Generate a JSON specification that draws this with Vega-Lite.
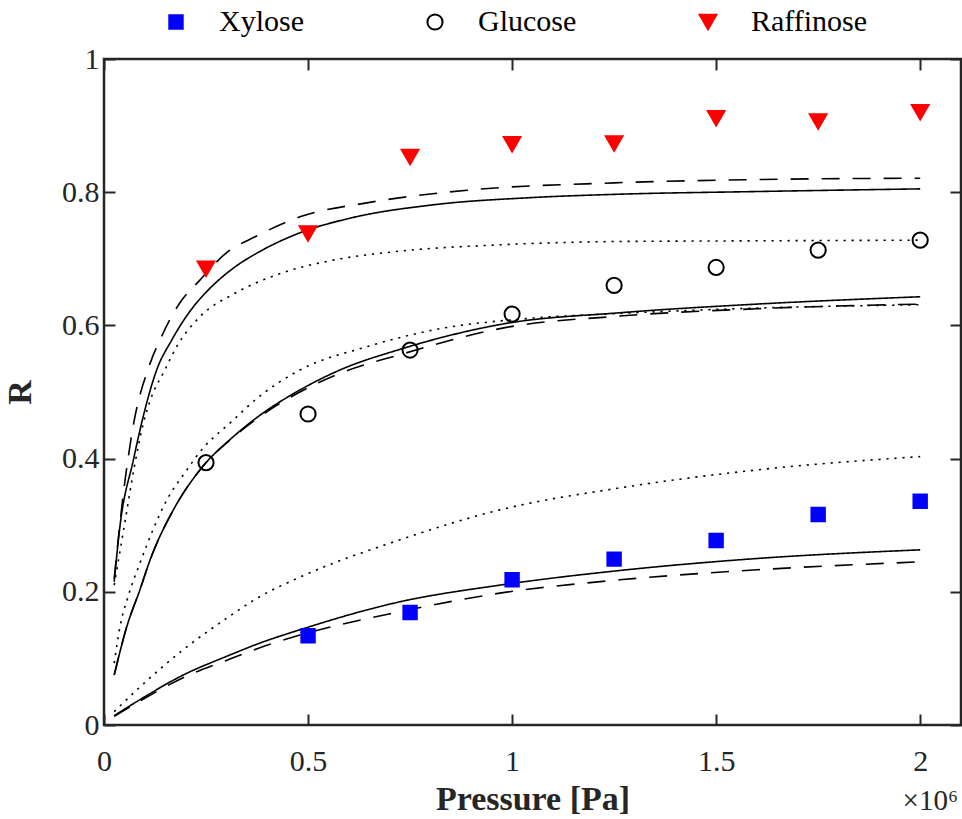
{
  "$schema": "https://vega.github.io/schema/vega-lite/v6.json",
  "width": 857,
  "height": 666,
  "autosize": {"type": "none"},
  "padding": {"left": 104, "top": 59, "right": 1, "bottom": 94},
  "background": "white",
  "config": {
    "view": {"stroke": "#262626", "strokeWidth": 2.5},
    "font": "Liberation Serif",
    "axis": {
      "labelFont": "Liberation Serif",
      "titleFont": "Liberation Serif",
      "labelColor": "#262626",
      "titleColor": "#262626",
      "tickColor": "#262626",
      "tickWidth": 2,
      "labelFontSize": 30,
      "titleFontSize": 34,
      "titleFontWeight": "bold",
      "grid": false,
      "domain": false
    }
  },
  "datasets": {
    "points": [
      {"sugar": "Xylose", "P": 0.5, "R": 0.134},
      {"sugar": "Xylose", "P": 0.75, "R": 0.169},
      {"sugar": "Xylose", "P": 1.0, "R": 0.218},
      {"sugar": "Xylose", "P": 1.25, "R": 0.249},
      {"sugar": "Xylose", "P": 1.5, "R": 0.277},
      {"sugar": "Xylose", "P": 1.75, "R": 0.316},
      {"sugar": "Xylose", "P": 2.0, "R": 0.336},
      {"sugar": "Glucose", "P": 0.25, "R": 0.394},
      {"sugar": "Glucose", "P": 0.5, "R": 0.467},
      {"sugar": "Glucose", "P": 0.75, "R": 0.563},
      {"sugar": "Glucose", "P": 1.0, "R": 0.617},
      {"sugar": "Glucose", "P": 1.25, "R": 0.660},
      {"sugar": "Glucose", "P": 1.5, "R": 0.687},
      {"sugar": "Glucose", "P": 1.75, "R": 0.713},
      {"sugar": "Glucose", "P": 2.0, "R": 0.728},
      {"sugar": "Raffinose", "P": 0.25, "R": 0.685},
      {"sugar": "Raffinose", "P": 0.5, "R": 0.738},
      {"sugar": "Raffinose", "P": 0.75, "R": 0.853},
      {"sugar": "Raffinose", "P": 1.0, "R": 0.872},
      {"sugar": "Raffinose", "P": 1.25, "R": 0.873},
      {"sugar": "Raffinose", "P": 1.5, "R": 0.911},
      {"sugar": "Raffinose", "P": 1.75, "R": 0.906},
      {"sugar": "Raffinose", "P": 2.0, "R": 0.920}
    ],
    "curves": [
      {"curve": "RaD", "style": "dashed", "P": 0.025, "R": 0.22},
      {"curve": "RaD", "style": "dashed", "P": 0.05, "R": 0.36},
      {"curve": "RaD", "style": "dashed", "P": 0.071, "R": 0.447},
      {"curve": "RaD", "style": "dashed", "P": 0.113, "R": 0.543},
      {"curve": "RaD", "style": "dashed", "P": 0.137, "R": 0.578},
      {"curve": "RaD", "style": "dashed", "P": 0.186, "R": 0.634},
      {"curve": "RaD", "style": "dashed", "P": 0.235, "R": 0.668},
      {"curve": "RaD", "style": "dashed", "P": 0.30, "R": 0.709},
      {"curve": "RaD", "style": "dashed", "P": 0.37, "R": 0.733},
      {"curve": "RaD", "style": "dashed", "P": 0.48, "R": 0.763},
      {"curve": "RaD", "style": "dashed", "P": 0.644, "R": 0.784},
      {"curve": "RaD", "style": "dashed", "P": 0.89, "R": 0.803},
      {"curve": "RaD", "style": "dashed", "P": 1.25, "R": 0.814},
      {"curve": "RaD", "style": "dashed", "P": 1.6, "R": 0.819},
      {"curve": "RaD", "style": "dashed", "P": 2.0, "R": 0.821},

      {"curve": "RaS", "style": "solid", "P": 0.025, "R": 0.215},
      {"curve": "RaS", "style": "solid", "P": 0.039, "R": 0.298},
      {"curve": "RaS", "style": "solid", "P": 0.072, "R": 0.398},
      {"curve": "RaS", "style": "solid", "P": 0.096, "R": 0.463},
      {"curve": "RaS", "style": "solid", "P": 0.129, "R": 0.533},
      {"curve": "RaS", "style": "solid", "P": 0.166, "R": 0.578},
      {"curve": "RaS", "style": "solid", "P": 0.219, "R": 0.628},
      {"curve": "RaS", "style": "solid", "P": 0.252, "R": 0.651},
      {"curve": "RaS", "style": "solid", "P": 0.317, "R": 0.686},
      {"curve": "RaS", "style": "solid", "P": 0.382, "R": 0.711},
      {"curve": "RaS", "style": "solid", "P": 0.48, "R": 0.739},
      {"curve": "RaS", "style": "solid", "P": 0.603, "R": 0.761},
      {"curve": "RaS", "style": "solid", "P": 0.806, "R": 0.781},
      {"curve": "RaS", "style": "solid", "P": 1.051, "R": 0.792},
      {"curve": "RaS", "style": "solid", "P": 1.264, "R": 0.797},
      {"curve": "RaS", "style": "solid", "P": 1.6, "R": 0.801},
      {"curve": "RaS", "style": "solid", "P": 2.0, "R": 0.805},

      {"curve": "RaT", "style": "dotted", "P": 0.025, "R": 0.21},
      {"curve": "RaT", "style": "dotted", "P": 0.05, "R": 0.30},
      {"curve": "RaT", "style": "dotted", "P": 0.075, "R": 0.39},
      {"curve": "RaT", "style": "dotted", "P": 0.096, "R": 0.452},
      {"curve": "RaT", "style": "dotted", "P": 0.113, "R": 0.487},
      {"curve": "RaT", "style": "dotted", "P": 0.149, "R": 0.533},
      {"curve": "RaT", "style": "dotted", "P": 0.178, "R": 0.568},
      {"curve": "RaT", "style": "dotted", "P": 0.235, "R": 0.613},
      {"curve": "RaT", "style": "dotted", "P": 0.317, "R": 0.647},
      {"curve": "RaT", "style": "dotted", "P": 0.423, "R": 0.676},
      {"curve": "RaT", "style": "dotted", "P": 0.562, "R": 0.698},
      {"curve": "RaT", "style": "dotted", "P": 0.717, "R": 0.711},
      {"curve": "RaT", "style": "dotted", "P": 0.97, "R": 0.721},
      {"curve": "RaT", "style": "dotted", "P": 1.264, "R": 0.726},
      {"curve": "RaT", "style": "dotted", "P": 1.6, "R": 0.727},
      {"curve": "RaT", "style": "dotted", "P": 2.0, "R": 0.728},

      {"curve": "GlS", "style": "solid", "P": 0.025, "R": 0.075},
      {"curve": "GlS", "style": "solid", "P": 0.056, "R": 0.148},
      {"curve": "GlS", "style": "solid", "P": 0.088, "R": 0.203},
      {"curve": "GlS", "style": "solid", "P": 0.113, "R": 0.248},
      {"curve": "GlS", "style": "solid", "P": 0.170, "R": 0.323},
      {"curve": "GlS", "style": "solid", "P": 0.235, "R": 0.383},
      {"curve": "GlS", "style": "solid", "P": 0.317, "R": 0.433},
      {"curve": "GlS", "style": "solid", "P": 0.382, "R": 0.465},
      {"curve": "GlS", "style": "solid", "P": 0.48, "R": 0.503},
      {"curve": "GlS", "style": "solid", "P": 0.578, "R": 0.533},
      {"curve": "GlS", "style": "solid", "P": 0.725, "R": 0.564},
      {"curve": "GlS", "style": "solid", "P": 0.986, "R": 0.603},
      {"curve": "GlS", "style": "solid", "P": 1.264, "R": 0.619},
      {"curve": "GlS", "style": "solid", "P": 1.6, "R": 0.632},
      {"curve": "GlS", "style": "solid", "P": 2.0, "R": 0.643},

      {"curve": "GlD", "style": "dashed", "P": 0.025, "R": 0.075},
      {"curve": "GlD", "style": "dashed", "P": 0.056, "R": 0.148},
      {"curve": "GlD", "style": "dashed", "P": 0.088, "R": 0.203},
      {"curve": "GlD", "style": "dashed", "P": 0.113, "R": 0.248},
      {"curve": "GlD", "style": "dashed", "P": 0.170, "R": 0.323},
      {"curve": "GlD", "style": "dashed", "P": 0.235, "R": 0.383},
      {"curve": "GlD", "style": "dashed", "P": 0.317, "R": 0.432},
      {"curve": "GlD", "style": "dashed", "P": 0.382, "R": 0.463},
      {"curve": "GlD", "style": "dashed", "P": 0.48, "R": 0.500},
      {"curve": "GlD", "style": "dashed", "P": 0.578, "R": 0.528},
      {"curve": "GlD", "style": "dashed", "P": 0.725, "R": 0.556},
      {"curve": "GlD", "style": "dashed", "P": 0.986, "R": 0.597},
      {"curve": "GlD", "style": "dashed", "P": 1.264, "R": 0.614},
      {"curve": "GlD", "style": "dashed", "P": 1.6, "R": 0.625},
      {"curve": "GlD", "style": "dashed", "P": 2.0, "R": 0.632},

      {"curve": "GlT", "style": "dotted", "P": 0.025, "R": 0.093},
      {"curve": "GlT", "style": "dotted", "P": 0.039, "R": 0.147},
      {"curve": "GlT", "style": "dotted", "P": 0.059, "R": 0.193},
      {"curve": "GlT", "style": "dotted", "P": 0.088, "R": 0.243},
      {"curve": "GlT", "style": "dotted", "P": 0.154, "R": 0.338},
      {"curve": "GlT", "style": "dotted", "P": 0.203, "R": 0.383},
      {"curve": "GlT", "style": "dotted", "P": 0.235, "R": 0.41},
      {"curve": "GlT", "style": "dotted", "P": 0.317, "R": 0.458},
      {"curve": "GlT", "style": "dotted", "P": 0.374, "R": 0.49},
      {"curve": "GlT", "style": "dotted", "P": 0.48, "R": 0.533},
      {"curve": "GlT", "style": "dotted", "P": 0.644, "R": 0.568},
      {"curve": "GlT", "style": "dotted", "P": 0.806, "R": 0.593},
      {"curve": "GlT", "style": "dotted", "P": 1.051, "R": 0.611},
      {"curve": "GlT", "style": "dotted", "P": 1.264, "R": 0.618},
      {"curve": "GlT", "style": "dotted", "P": 1.6, "R": 0.626},
      {"curve": "GlT", "style": "dotted", "P": 2.0, "R": 0.631},

      {"curve": "XyS", "style": "solid", "P": 0.025, "R": 0.014},
      {"curve": "XyS", "style": "solid", "P": 0.088, "R": 0.038},
      {"curve": "XyS", "style": "solid", "P": 0.194, "R": 0.075},
      {"curve": "XyS", "style": "solid", "P": 0.30, "R": 0.103},
      {"curve": "XyS", "style": "solid", "P": 0.382, "R": 0.123},
      {"curve": "XyS", "style": "solid", "P": 0.48, "R": 0.143},
      {"curve": "XyS", "style": "solid", "P": 0.725, "R": 0.185},
      {"curve": "XyS", "style": "solid", "P": 0.97, "R": 0.210},
      {"curve": "XyS", "style": "solid", "P": 1.264, "R": 0.232},
      {"curve": "XyS", "style": "solid", "P": 1.6, "R": 0.250},
      {"curve": "XyS", "style": "solid", "P": 2.0, "R": 0.263},

      {"curve": "XyD", "style": "dashed", "P": 0.025, "R": 0.013},
      {"curve": "XyD", "style": "dashed", "P": 0.088, "R": 0.036},
      {"curve": "XyD", "style": "dashed", "P": 0.194, "R": 0.071},
      {"curve": "XyD", "style": "dashed", "P": 0.30, "R": 0.097},
      {"curve": "XyD", "style": "dashed", "P": 0.382, "R": 0.116},
      {"curve": "XyD", "style": "dashed", "P": 0.48, "R": 0.135},
      {"curve": "XyD", "style": "dashed", "P": 0.725, "R": 0.170},
      {"curve": "XyD", "style": "dashed", "P": 0.97, "R": 0.198},
      {"curve": "XyD", "style": "dashed", "P": 1.264, "R": 0.218},
      {"curve": "XyD", "style": "dashed", "P": 1.6, "R": 0.233},
      {"curve": "XyD", "style": "dashed", "P": 2.0, "R": 0.245},

      {"curve": "XyT", "style": "dotted", "P": 0.025, "R": 0.02},
      {"curve": "XyT", "style": "dotted", "P": 0.088, "R": 0.057},
      {"curve": "XyT", "style": "dotted", "P": 0.194, "R": 0.113},
      {"curve": "XyT", "style": "dotted", "P": 0.30, "R": 0.160},
      {"curve": "XyT", "style": "dotted", "P": 0.374, "R": 0.190},
      {"curve": "XyT", "style": "dotted", "P": 0.48, "R": 0.222},
      {"curve": "XyT", "style": "dotted", "P": 0.725, "R": 0.278},
      {"curve": "XyT", "style": "dotted", "P": 0.97, "R": 0.323},
      {"curve": "XyT", "style": "dotted", "P": 1.264, "R": 0.356},
      {"curve": "XyT", "style": "dotted", "P": 1.6, "R": 0.383},
      {"curve": "XyT", "style": "dotted", "P": 2.0, "R": 0.403}
    ]
  },
  "resolve": {"axis": {"x": "independent", "y": "independent"}},
  "layer": [
    {
      "data": {"name": "curves"},
      "mark": {"type": "line", "interpolate": "monotone", "color": "black", "clip": true},
      "encoding": {
        "x": {
          "field": "P", "type": "quantitative",
          "scale": {"domain": [0, 2.1], "nice": false, "zero": false},
          "axis": {"orient": "bottom", "values": [0, 0.5, 1, 1.5, 2], "format": "~g", "tickSize": -11, "labelPadding": 32, "title": "Pressure [Pa]", "titlePadding": 6, "labelFlush": false}
        },
        "y": {
          "field": "R", "type": "quantitative",
          "scale": {"domain": [0, 1], "nice": false},
          "axis": {"orient": "left", "values": [0, 0.2, 0.4, 0.6, 0.8, 1], "format": "~g", "tickSize": -11, "labelPadding": 16, "title": "R", "titlePadding": 24, "labelFlush": false}
        },
        "detail": {"field": "curve"},
        "strokeDash": {
          "field": "style", "type": "nominal",
          "scale": {"domain": ["solid", "dashed", "dotted"], "range": [[1, 0], [18, 13], [2.2, 5.8]]},
          "legend": null
        },
        "strokeWidth": {
          "field": "style", "type": "nominal",
          "scale": {"domain": ["solid", "dashed", "dotted"], "range": [1.6, 1.6, 2.4]},
          "legend": null
        }
      }
    },
    {
      "data": {"name": "points"},
      "mark": {"type": "point", "strokeWidth": 2, "opacity": 1},
      "encoding": {
        "x": {"field": "P", "type": "quantitative",
          "axis": {"orient": "top", "values": [0, 0.5, 1, 1.5, 2], "tickSize": -11, "labels": false, "title": null}},
        "y": {"field": "R", "type": "quantitative",
          "axis": {"orient": "right", "values": [0, 0.2, 0.4, 0.6, 0.8, 1], "tickSize": -11, "labels": false, "title": null}},
        "shape": {"field": "sugar", "type": "nominal",
          "scale": {"domain": ["Xylose", "Glucose", "Raffinose"], "range": ["square", "circle", "triangle-down"]},
          "legend": {
            "orient": "none", "legendX": 57, "legendY": -52, "direction": "horizontal", "columns": 3,
            "title": null, "labelFontSize": 30, "labelFont": "Liberation Serif", "labelColor": "black",
            "labelOffset": 28, "columnPadding": 116, "symbolStrokeWidth": 2
          }},
        "fill": {"field": "sugar", "type": "nominal",
          "scale": {"domain": ["Xylose", "Glucose", "Raffinose"], "range": ["#0000ff", "transparent", "#ff0000"]}},
        "stroke": {"field": "sugar", "type": "nominal",
          "scale": {"domain": ["Xylose", "Glucose", "Raffinose"], "range": ["#0000ff", "black", "#ff0000"]}},
        "size": {"field": "sugar", "type": "nominal",
          "scale": {"domain": ["Xylose", "Glucose", "Raffinose"], "range": [180, 280, 470]}}
      }
    },
    {
      "data": {"values": [{"label": "×10⁶"}]},
      "mark": {"type": "text", "align": "right", "baseline": "alphabetic", "dx": -3, "dy": 85, "fontSize": 29, "font": "Liberation Serif", "color": "#262626", "clip": false},
      "encoding": {
        "x": {"datum": 2.1, "type": "quantitative", "axis": null},
        "y": {"datum": 0, "type": "quantitative", "axis": null},
        "text": {"field": "label"}
      }
    }
  ]
}
